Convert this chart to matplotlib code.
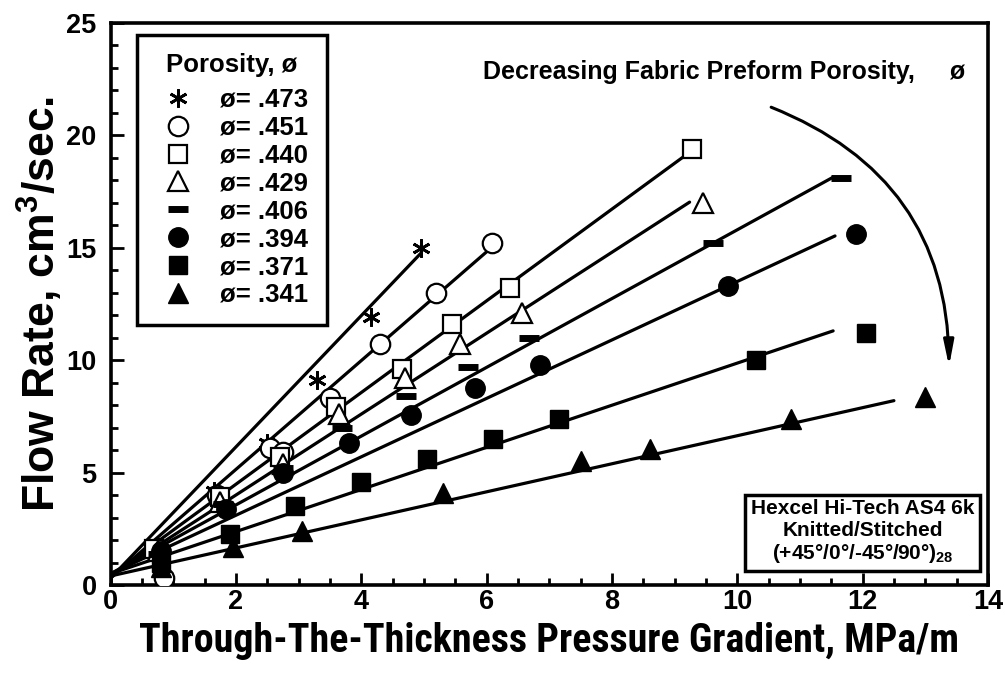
import matplotlib
matplotlib.use("Agg")
import matplotlib.pyplot as plt
from matplotlib.ticker import MultipleLocator
from matplotlib import font_manager

# ---------------- data ----------------
porosity_labels = [".473", ".451", ".440", ".429", ".406", ".394", ".371", ".341"]

x_473 = [0.75, 1.65, 2.5, 3.3, 4.15, 4.95]
y_473 = [1.7, 4.2, 6.3, 9.1, 11.9, 15.0]

x_451 = [0.85, 1.7, 2.55, 2.75, 3.5, 4.3, 5.2, 6.08]
y_451 = [0.3, 4.0, 6.1, 5.9, 8.3, 10.7, 13.0, 15.2]

x_440 = [0.7, 1.75, 2.7, 3.6, 4.65, 5.45, 6.38, 9.28]
y_440 = [1.6, 3.9, 5.7, 7.9, 9.6, 11.6, 13.2, 19.4]

x_429 = [0.75, 1.75, 2.75, 3.65, 4.7, 5.58, 6.57, 9.45]
y_429 = [1.5, 3.7, 5.4, 7.6, 9.2, 10.7, 12.1, 17.0]

x_406 = [0.75, 1.8, 2.75, 3.7, 4.72, 5.7, 6.67, 9.62, 11.65]
y_406 = [1.4, 3.6, 5.2, 7.0, 8.4, 9.7, 11.0, 15.2, 18.1]

x_394 = [0.8, 1.85, 2.75, 3.8, 4.8, 5.82, 6.85, 9.86, 11.9]
y_394 = [1.5, 3.4, 5.0, 6.3, 7.55, 8.75, 9.8, 13.3, 15.6]

x_371 = [0.8, 1.9, 2.95, 4.0, 5.05, 6.1, 7.15, 10.3, 12.05]
y_371 = [1.0, 2.25, 3.5, 4.6, 5.6, 6.5, 7.4, 10.0, 11.2]

x_341 = [0.8, 1.95, 3.05, 5.3, 7.5, 8.6, 10.85, 13.0]
y_341 = [0.8, 1.7, 2.4, 4.1, 5.5, 6.05, 7.4, 8.35]

x_data = [x_473, x_451, x_440, x_429, x_406, x_394, x_371, x_341]
y_data = [y_473, y_451, y_440, y_429, y_406, y_394, y_371, y_341]

# fitted lines: intercept, slope, x end
fit_intercept = [0.3, 0.3, 0.4, 0.4, 0.5, 0.5, 0.5, 0.4]
fit_slope = [2.92, 2.42, 2.04, 1.80, 1.53, 1.30, 0.937, 0.624]
fit_xmax = [4.95, 6.08, 9.28, 9.24, 11.53, 11.56, 11.53, 12.5]

x_ticks = [0, 2, 4, 6, 8, 10, 12, 14]
y_ticks = [0, 5, 10, 15, 20, 25]

# ---------------- style ----------------
bold_fams = {f.name for f in font_manager.fontManager.ttflist
             if (isinstance(f.weight, int) and f.weight >= 700) or f.weight == 'bold'}
narrow = "Liberation Sans"
for cand in ["Liberation Sans Narrow", "Roboto Condensed", "Archivo Narrow",
             "PT Sans Narrow", "Open Sans Condensed", "IBM Plex Sans Condensed"]:
    if cand in bold_fams:
        narrow = cand
        break
reg = "Liberation Sans"
plt.rcParams['font.family'] = [reg, 'DejaVu Sans']
plt.rcParams['font.weight'] = 'bold'
plt.rcParams['mathtext.fontset'] = 'custom'
plt.rcParams['mathtext.bf'] = reg + ':bold'
plt.rcParams['mathtext.rm'] = reg + ':bold'

fig = plt.figure(figsize=(10.05, 6.87), dpi=100)
ax = fig.add_axes([0.110, 0.1485, 0.873, 0.818])

markers = [(6, 2, 0), 'o', 's', '^', '_', 'o', 's', '^']
filled = [True, False, False, False, True, True, True, True]
msizes = [13, 14, 13, 15, 15, 14, 13, 15]

PHI = "\u00f8"
for i in range(len(x_data)):
    x0, x1 = 0.0, fit_xmax[i]
    ax.plot([x0, x1], [fit_intercept[i] + fit_slope[i] * x0,
                       fit_intercept[i] + fit_slope[i] * x1],
            color='black', lw=2.3, solid_capstyle='round', zorder=2)
    mk = markers[i]
    kw = dict(linestyle='none', marker=mk, markersize=msizes[i], zorder=3,
              label=f"{PHI}= {porosity_labels[i]}")
    if mk == '_':
        kw.update(markeredgewidth=5, color='black')
    elif mk == (6, 2, 0):
        kw.update(markeredgewidth=2, color='black')
    elif filled[i]:
        kw.update(markerfacecolor='black', markeredgecolor='black')
    else:
        kw.update(markerfacecolor='white', markeredgecolor='black', markeredgewidth=1.6)
    ax.plot(x_data[i], y_data[i], **kw)

ax.set_xlim(0, 14)
ax.set_ylim(0, 25)
ax.set_xticks(x_ticks)
ax.set_yticks(y_ticks)
ax.xaxis.set_minor_locator(MultipleLocator(0.5))
ax.yaxis.set_minor_locator(MultipleLocator(1))
ax.tick_params(which='major', direction='in', length=9, width=2, labelsize=19.5)
ax.tick_params(axis='x', which='major', pad=3)
ax.tick_params(axis='y', which='major', pad=10)
ax.tick_params(which='minor', direction='in', length=5, width=2)
for lab in ax.get_xticklabels() + ax.get_yticklabels():
    lab.set_fontweight('bold')
for s in ax.spines.values():
    s.set_linewidth(2.6)

xl = ax.set_xlabel("Through-The-Thickness Pressure Gradient, MPa/m",
                   fontsize=24, fontweight='bold', labelpad=5, family=[narrow, 'DejaVu Sans'])
ax.set_ylabel("Flow Rate, cm$^3$/sec.", fontsize=32, fontweight='bold', labelpad=1)

# scale the x label to the reference's width (about 823 px)
fig.canvas.draw()
r = fig.canvas.get_renderer()
w = xl.get_window_extent(r).width
xl.set_fontsize(24 * 823.0 / w)

leg = ax.legend(loc='upper left', bbox_to_anchor=(0.03, 0.979), borderaxespad=0,
                title=f"Porosity, {PHI}", fontsize=18.5,
                title_fontproperties={'weight': 'bold', 'size': 18.5},
                frameon=True, fancybox=False, edgecolor='black', framealpha=1,
                handlelength=1.8, handletextpad=0.75, labelspacing=0.15, borderpad=0.7)
leg.get_frame().set_linewidth(2.5)
leg._legend_box.sep = 8
for t in leg.get_texts():
    t.set_fontweight('bold')

ax.text(5.95, 22.8, f"Decreasing Fabric Preform Porosity,     {PHI}", fontsize=18,
        fontweight='bold', ha='left', va='center')

ax.annotate("", xy=(13.38, 9.6), xytext=(10.5, 21.3),
            arrowprops=dict(arrowstyle='-|>,head_length=1.5,head_width=0.3',
                            connectionstyle='arc3,rad=-0.34', color='black', lw=2.2))

ax.text(12.0, 2.35, "Hexcel Hi-Tech AS4 6k\nKnitted/Stitched\n(+45\u00b0/0\u00b0/-45\u00b0/90\u00b0)$_{28}$",
        fontsize=15, fontweight='bold', ha='center', va='center', linespacing=1.15,
        bbox=dict(boxstyle='square,pad=0.28', facecolor='white', edgecolor='black', linewidth=2.5))

fig.savefig("out.png", dpi=100)
